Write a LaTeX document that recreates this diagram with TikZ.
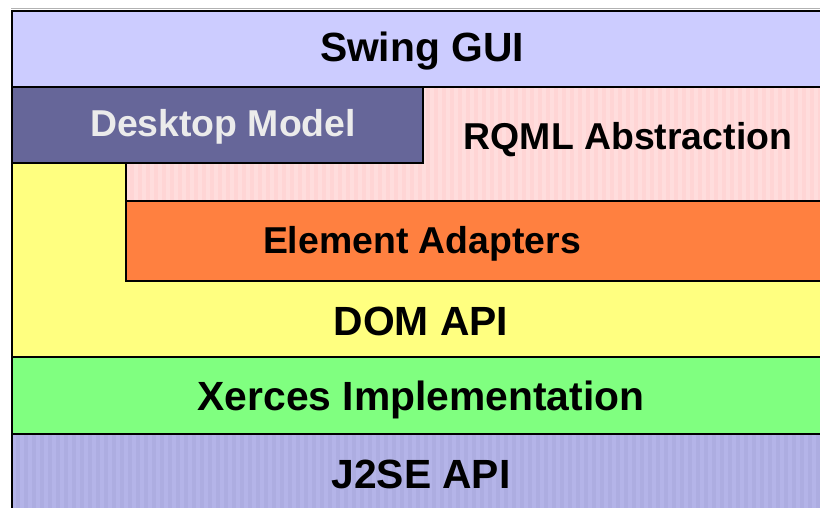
\documentclass[tikz,border=0pt]{standalone}
\usepackage{fontspec}
\setmainfont{Liberation Sans}
\definecolor{swingc}{HTML}{CCCCFF}
\definecolor{deskc}{HTML}{666699}
\definecolor{rqmlc}{HTML}{FFDDDD}
\definecolor{rqmlstripe}{HTML}{FFD5D5}
\definecolor{adapc}{HTML}{FF8040}
\definecolor{domc}{HTML}{FFFF80}
\definecolor{xercc}{HTML}{80FF80}
\definecolor{j2sec}{HTML}{B4B4E8}
\definecolor{j2sestripe}{HTML}{ADADE1}
\tikzset{
  layer/.style={draw=black, line width=0.7pt},
  biglabel/.style={anchor=base, font=\fontsize{20.4}{24}\selectfont\bfseries},
  smalllabel/.style={anchor=base, font=\fontsize{18.7}{22}\selectfont\bfseries}
}
\begin{document}
\begin{tikzpicture}[x=0.5pt, y=-0.5pt]
    \useasboundingbox (0,0) rectangle (820,508);
    \fill[white] (0,0) rectangle (820,508);
    % layers, bottom first
    \fill[domc] (12,163) rectangle (830,357);
    \draw[layer] (12,357) -- (830,357);
    \fill[rqmlc] (126,87) rectangle (830,201);
    \foreach \x in {130,138,...,830}
      \fill[rqmlstripe] (\x,87) rectangle ++(4,114);
    \filldraw[layer, fill=deskc] (12,87) rectangle (423,163);
    \draw[layer] (126,163) -- (126,201);
    \filldraw[layer, fill=adapc] (126,201) rectangle (830,281);
    \filldraw[layer, fill=swingc] (12,11) rectangle (830,87);
    \filldraw[layer, fill=xercc] (12,357) rectangle (830,434);
    \fill[j2sec] (12,434) rectangle (830,520);
    \foreach \x in {16,24,...,830}
      \fill[j2sestripe] (\x,434) rectangle ++(4,86);
    \draw[layer] (12,434) -- (830,434);
    % outer frame
    \draw[gray!60, line width=0.5pt] (11,9) -- (830,9);
    \draw[line width=1.4pt] (12,520) -- (12,11) -- (830,11);
    % labels
    \node[biglabel] (swing) at (422,62) {Swing GUI};
    \node[smalllabel, text=black!8] (desk) at (223,137) {Desktop Model};
    \node[smalllabel] (rqml) at (628,150) {RQML Abstraction};
    \node[smalllabel] (adap) at (422,253) {Element Adapters};
    \node[biglabel] (dom) at (421,335) {DOM API};
    \node[biglabel] (xerc) at (421,410) {Xerces Implementation};
    \node[biglabel] (j2se) at (421,488) {J2SE API};
\end{tikzpicture}
\end{document}
